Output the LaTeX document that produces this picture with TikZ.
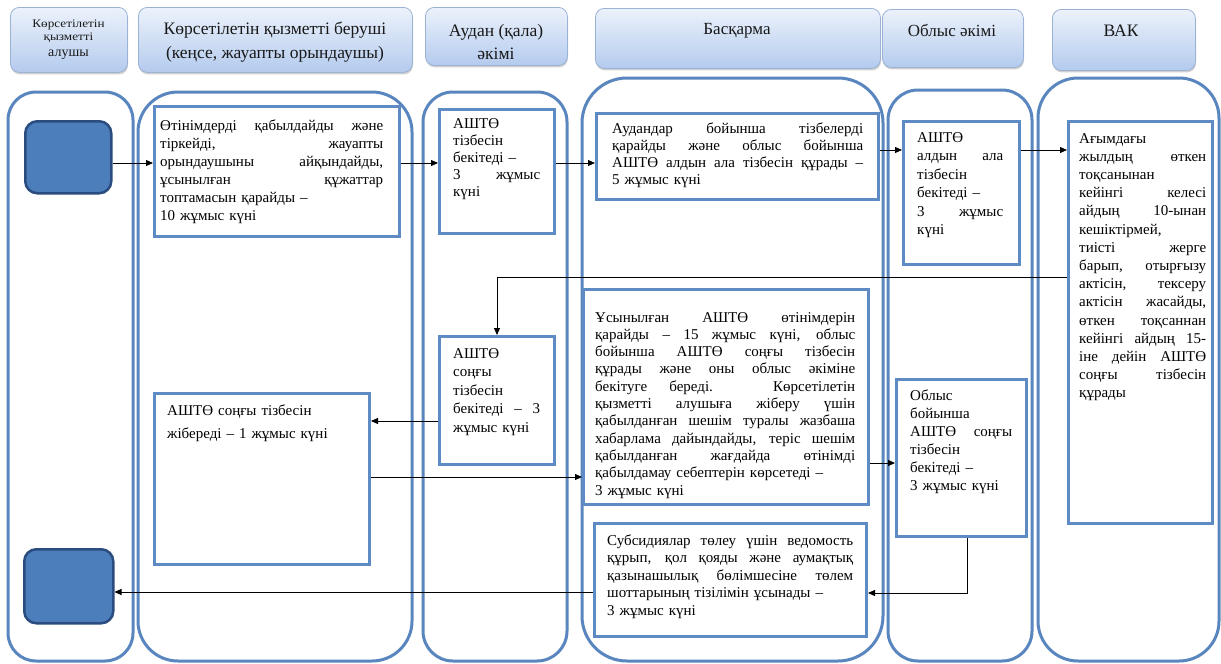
\documentclass[tikz,border=0pt]{standalone}
\usepackage{fontspec}
\usepackage{graphicx}
\setmainfont{Liberation Serif}
\usetikzlibrary{arrows.meta,calc,shadows}
\definecolor{lanec}{HTML}{5A86BF}
\definecolor{boxc}{HTML}{5F8BC4}
\definecolor{darkf}{HTML}{4B7EBB}
\definecolor{darkb}{HTML}{2B4C7E}
\definecolor{hdrtop}{HTML}{ECF2FB}
\definecolor{hdrbot}{HTML}{B4CBEE}
\definecolor{hdrline}{HTML}{9AB2D6}
\def\tw{100pt}
\newcommand{\jl}[1]{\leavevmode\hbox to \tw{\spaceskip=0pt\xspaceskip=0pt #1}}
\begin{document}
\begin{tikzpicture}[x=1pt,y=-1pt,
  lane/.style={draw=lanec, line width=3pt, fill=white},
  box/.style={draw=boxc, line width=3pt, fill=white, inner sep=0pt, anchor=north west},
  term/.style={draw=darkb, line width=2.5pt, fill=darkf, rounded corners=12pt, inner sep=0pt, anchor=north west},
  hdr/.style={draw=hdrline, line width=0.8pt, rounded corners=9pt, top color=hdrtop, bottom color=hdrbot,
    drop shadow={shadow xshift=0.6pt, shadow yshift=-2pt, opacity=0.3, fill=black!60}, inner sep=0pt, anchor=north west},
  htxt/.style={inner sep=0pt, align=center, text=black!90, font=\fontsize{17.5}{23.5}\selectfont},
  txt/.style={inner sep=0pt, anchor=base west, align=left, font=\fontsize{15}{17.3}\selectfont},
  tw/.style={text width=#1, execute at begin node={\def\tw{#1}}},
  arr/.style={-{Triangle[length=7pt,width=6pt]}, line width=0.9pt, black}]
\useasboundingbox[fill=white] (0,0) rectangle (1221,664);

% headers
\node[hdr, minimum width=117pt, minimum height=65pt] (h1) at (10,7) {};
\node[hdr, minimum width=274pt, minimum height=65pt] (h2) at (138,7) {};
\node[hdr, minimum width=142pt, minimum height=58pt] (h3) at (425,7) {};
\node[hdr, minimum width=285pt, minimum height=60pt] (h4) at (595,8) {};
\node[hdr, minimum width=141pt, minimum height=58pt] (h5) at (882,9) {};
\node[hdr, minimum width=143pt, minimum height=61pt] (h6) at (1052,9) {};
\node[htxt, font=\fontsize{11}{13}\selectfont] (h1t) at (68.5,40)
  {\scalebox{1.2}[1.05]{Көрсетілетін}\\\scalebox{1.2}[1.05]{қызметті}\\[3pt]{\fontsize{14}{16}\selectfont алушы}};
\node[htxt] (h2t) at (275,42) {Көрсетілетін қызметті беруші\\(кеңсе, жауапты орындаушы)};
\node[htxt] (h3t) at (496,42) {Аудан (қала)\\әкімі};
\node[htxt, font=\fontsize{17}{20}\selectfont] (h4t) at (737,31) {Басқарма};
\node[htxt, font=\fontsize{17}{20}\selectfont] (h5t) at (952,30) {Облыс әкімі};
\node[htxt] (h6t) at (1121,31) {ВАК};

% lanes
\draw[lane, rounded corners=28pt] (8,92) rectangle (133,661);
\draw[lane, rounded corners=40pt] (138,92) rectangle (412,661);
\draw[lane, rounded corners=30pt] (423,92) rectangle (567,661);
\draw[lane, rounded corners=45pt] (582,78) rectangle (883,661);
\draw[lane, rounded corners=30pt] (888,90) rectangle (1032,661);
\draw[lane, rounded corners=40pt] (1038,78) rectangle (1219,661);

% start / end
\node[term, minimum width=86pt, minimum height=72pt] (S) at (24,120) {};
\node[term, minimum width=89pt, minimum height=74pt] (T) at (23,548) {};

% boxes
\node[box, minimum width=245pt, minimum height=130pt] (A) at (153,105) {};
\node[box, minimum width=115pt, minimum height=124pt] (B) at (438,108) {};
\node[box, minimum width=282pt, minimum height=86pt] (C) at (595,112) {};
\node[box, minimum width=116pt, minimum height=143pt] (D) at (902,120) {};
\node[box, minimum width=144pt, minimum height=402pt] (E) at (1067,120) {};
\node[box, minimum width=115pt, minimum height=128pt] (F) at (438,335) {};
\node[box, minimum width=285pt, minimum height=215pt] (G) at (582,288) {};
\node[box, minimum width=215pt, minimum height=171pt] (H) at (153,392) {};
\node[box, minimum width=130pt, minimum height=157pt] (I) at (895,378) {};
\node[box, minimum width=272pt, minimum height=113pt] (J) at (593,522) {};

% texts
\node[txt, tw=223pt, font=\fontsize{15}{18}\selectfont] (At) at ($(A.north west)+(7,25)$)
 {\jl{Өтінімдерді қабылдайды және}\\\jl{тіркейді, жауапты}\\\jl{орындаушыны айқындайды,}\\\jl{ұсынылған құжаттар}\\топтамасын қарайды –\\10 жұмыс күні};
\node[txt, tw=87pt, font=\fontsize{15}{17}\selectfont] (Bt) at ($(B.north west)+(15,20)$)
 {АШТӨ\\тізбесін\\бекітеді –\\\jl{3 жұмыс}\\күні};
\node[txt, tw=251pt] (Ct) at ($(C.north west)+(17,21)$)
 {\jl{Аудандар бойынша тізбелерді}\\\jl{қарайды және облыс бойынша}\\\jl{АШТӨ алдын ала тізбесін құрады –}\\5 жұмыс күні};
\node[txt, tw=86pt, font=\fontsize{15}{18.5}\selectfont] (Dt) at ($(D.north west)+(15,22)$)
 {АШТӨ\\\jl{алдын ала}\\тізбесін\\бекітеді –\\\jl{3 жұмыс}\\күні};
\node[txt, tw=127pt, font=\fontsize{15}{18.2}\selectfont] (Et) at ($(E.north west)+(12,23)$)
 {Ағымдағы\\\jl{жылдың өткен}\\тоқсанынан\\\jl{кейінгі келесі}\\\jl{айдың 10-ынан}\\кешіктірмей,\\\jl{тиісті жерге}\\\jl{барып, отырғызу}\\\jl{актісін, тексеру}\\\jl{актісін жасайды,}\\\jl{өткен тоқсаннан}\\\jl{кейінгі айдың 15-}\\\jl{іне дейін АШТӨ}\\\jl{соңғы тізбесін}\\құрады};
\node[txt, tw=87pt, font=\fontsize{15}{18.5}\selectfont] (Ft) at ($(F.north west)+(15,23)$)
 {АШТӨ\\соңғы\\тізбесін\\\jl{бекітеді – 3}\\жұмыс күні};
\node[txt, tw=260pt] (Gt) at ($(G.north west)+(13,34)$)
 {\jl{Ұсынылған АШТӨ өтінімдерін}\\\jl{қарайды – 15 жұмыс күні, облыс}\\\jl{бойынша АШТӨ соңғы тізбесін}\\\jl{құрады және оны облыс әкіміне}\\\jl{бекітуге береді. Көрсетілетін}\\\jl{қызметті алушыға жіберу үшін}\\\jl{қабылданған шешім туралы жазбаша}\\\jl{хабарлама дайындайды, теріс шешім}\\\jl{қабылданған жағдайда өтінімді}\\қабылдамау себептерін көрсетеді –\\3 жұмыс күні};
\node[txt, tw=190pt, font=\fontsize{15}{23}\selectfont] (Ht) at ($(H.north west)+(14,23)$)
 {АШТӨ соңғы тізбесін\\жібереді – 1 жұмыс күні};
\node[txt, tw=102pt, font=\fontsize{15}{18}\selectfont] (It) at ($(I.north west)+(15,22)$)
 {Облыс\\бойынша\\\jl{АШТӨ соңғы}\\тізбесін\\бекітеді –\\3 жұмыс күні};
\node[txt, tw=246pt, font=\fontsize{15}{17.5}\selectfont] (Jt) at ($(J.north west)+(14,23)$)
 {\jl{Субсидиялар төлеу үшін ведомость}\\\jl{құрып, қол қояды және аумақтық}\\\jl{қазынашылық бөлімшесіне төлем}\\шоттарының тізілімін ұсынады –\\3 жұмыс күні};

% connectors
\draw[arr] ($(S.north east)+(0,43)$) -- ($(A.north west)+(0,58)$);
\draw[arr] ($(A.north east)+(0,58)$) -- ($(B.north west)+(0,55)$);
\draw[arr] ($(B.north east)+(0,55)$) -- ($(C.north west)+(0,51)$);
\draw[arr] ($(C.north east)+(0,38)$) -- ($(D.north west)+(0,30)$);
\draw[arr] ($(D.north east)+(0,30)$) -- ($(E.north west)+(0,30)$);
\draw[arr] ($(E.north west)+(0,157)$) -| ($(F.north west)+(59,0)$);
\draw[arr] ($(F.north west)+(0,86)$) -- ($(H.north east)+(0,29)$);
\draw[arr] ($(H.north east)+(0,85)$) -- ($(G.north west)+(0,189)$);
\draw[arr] ($(G.north east)+(0,175)$) -- ($(I.north west)+(0,85)$);
\draw[arr] ($(I.south west)+(72,0)$) |- ($(J.north east)+(0,71)$);
\draw[arr] ($(J.north west)+(0,70)$) -- ($(T.north east)+(0,44)$);
\end{tikzpicture}
\end{document}
